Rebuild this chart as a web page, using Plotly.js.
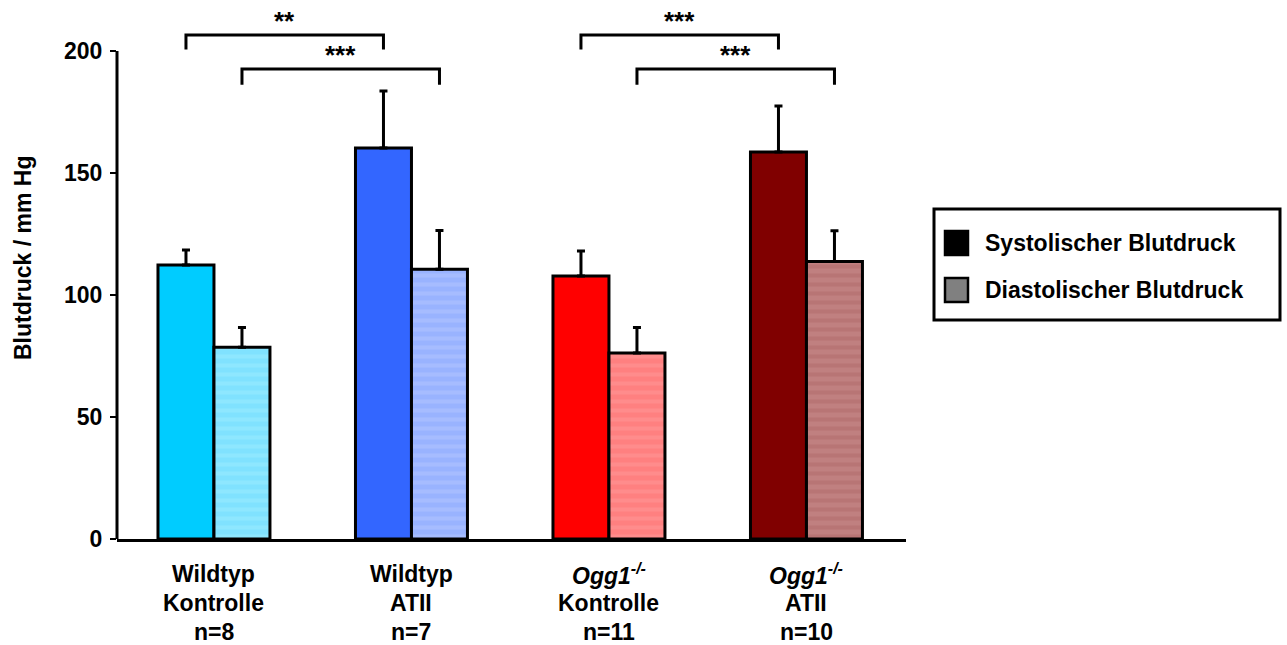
<!DOCTYPE html>
<html>
<head>
<meta charset="utf-8">
<script src="https://cdn.plot.ly/plotly-3.0.1.min.js"></script>
<style>
  html, body { margin: 0; padding: 0; background: #fff; }
  #chart { width: 1287px; height: 645px; }
</style>
</head>
<body>
<div id="chart"></div>
<script>
// Group labels (three lines under each group)
const genotype  = ["Wildtyp", "Wildtyp", "<i>Ogg1<sup>-/-</sup></i>", "<i>Ogg1<sup>-/-</sup></i>"];
const treatment = ["Kontrolle", "ATII", "Kontrolle", "ATII"];
const groupN    = ["n=8", "n=7", "n=11", "n=10"];

// Blood pressure means and SEM (mm Hg)
const systolic      = [112.3, 160.2, 107.8, 158.6];
const systolicErr   = [6.1, 23.4, 10.2, 18.9];
const diastolic     = [78.6, 110.6, 76.2, 113.7];
const diastolicErr  = [8.1, 15.8, 10.5, 12.6];

// Fill colours per group
const systolicColors  = ["#00ccff", "#3366ff", "#ff0000", "#800000"];
const diastolicColors = ["#80e2ff", "#99b3ff", "#ff8080", "#c08080"];
const diastolicStripe = ["#8ee7ff", "#a6bcff", "#ff8c8c", "#b87575"];

// Significance brackets: [first group, second group, series, label]
const brackets = [
  [0, 1, "sys", "**"],
  [0, 1, "dia", "***"],
  [2, 3, "sys", "***"],
  [2, 3, "dia", "***"]
];
const bracketLevels = { sys: [206.6, 200.6, 212.2], dia: [192.6, 186.2, 198.2] };

const FONT = "Liberation Sans, Arial, sans-serif";
const groupIdx = [0, 1, 2, 3];
const barOffset = 0.1418;   // half of one bar's width, in category units
const upOnly = arr => arr.map(() => 0);

const traces = [
  {
    type: "bar", name: "Systolischer Blutdruck", x: groupIdx, y: systolic,
    offsetgroup: "sys",
    marker: { color: systolicColors, line: { color: "#000", width: 3 } },
    error_y: { type: "data", array: systolicErr, arrayminus: upOnly(systolicErr),
               symmetric: false, color: "#000", thickness: 3, width: 4 },
    showlegend: false, hoverinfo: "y"
  },
  // diastolic: solid fill underneath ...
  {
    type: "bar", name: "Diastolischer Blutdruck", x: groupIdx, y: diastolic,
    offsetgroup: "dia",
    marker: { color: diastolicColors, line: { width: 0 } },
    showlegend: false, hoverinfo: "skip"
  },
  // ... with faint horizontal stripes, outline and error bars on top
  {
    type: "bar", name: "Diastolischer Blutdruck", x: groupIdx, y: diastolic,
    offsetgroup: "dia",
    marker: { color: "rgba(0,0,0,0)", line: { color: "#000", width: 3 },
              pattern: { shape: "-", fgcolor: diastolicStripe, bgcolor: "rgba(0,0,0,0)",
                         size: 9, solidity: 0.45, fillmode: "replace" } },
    error_y: { type: "data", array: diastolicErr, arrayminus: upOnly(diastolicErr),
               symmetric: false, color: "#000", thickness: 3, width: 4 },
    showlegend: false, hoverinfo: "y"
  }
];

// Plot area in pixels, used to place the legend box and axis title
const plotLeft = 117, plotRight = 906, plotTop = 10, plotBottom = 539;
const pxX = px => (px - plotLeft) / (plotRight - plotLeft);
const pxY = py => (plotBottom - py) / (plotBottom - plotTop);

const shapes = [];
const annotations = [];

// y axis line, only up to 200
shapes.push({ type: "line", xref: "paper", yref: "y", x0: 0, x1: 0, y0: 0, y1: 200,
              line: { color: "#000", width: 3 } });

// y axis title
annotations.push({ xref: "paper", yref: "paper", x: pxX(23), y: pxY(258), textangle: -90,
                   text: "Blutdruck / mm Hg", showarrow: false,
                   xanchor: "center", yanchor: "middle",
                   font: { family: FONT, size: 23, color: "#000", weight: 700 } });

// brackets
brackets.forEach(([a, b, s, label]) => {
  const off = s === "sys" ? -barOffset : barOffset;
  const [top, foot, textY] = bracketLevels[s];
  const xa = a + off, xb = b + off;
  shapes.push({ type: "path", xref: "x", yref: "y",
                path: `M ${xa},${foot} L ${xa},${top} L ${xb},${top} L ${xb},${foot}`,
                line: { color: "#000", width: 3 } });
  annotations.push({ xref: "x", yref: "y", x: (xa + xb) / 2, y: textY, text: label,
                     showarrow: false, yanchor: "middle",
                     font: { family: FONT, size: 26, color: "#000", weight: 700 } });
});

// group labels under the axis; the last line gets a compact box so it stays on the page
groupIdx.forEach(i => {
  [genotype[i], treatment[i], groupN[i]].forEach((t, k) => {
    const ann = { xref: "x", yref: "paper", x: i, y: 0, yanchor: "middle",
                  yshift: -35 - 29 * k, text: t, showarrow: false,
                  font: { family: FONT, size: 23, color: "#000", weight: 700 } };
    if (k === 2) ann.height = 26;
    annotations.push(ann);
  });
});

// legend box
shapes.push({ type: "rect", xref: "paper", yref: "paper",
              x0: pxX(934), x1: pxX(1280), y0: pxY(320), y1: pxY(209),
              line: { color: "#000", width: 3 }, fillcolor: "#fff" });
const legendItems = [
  { label: "Systolischer Blutdruck", fill: "#000", cy: 243 },
  { label: "Diastolischer Blutdruck", fill: "#808080", cy: 290 }
];
legendItems.forEach(it => {
  shapes.push({ type: "rect", xref: "paper", yref: "paper",
                x0: pxX(945), x1: pxX(968), y0: pxY(it.cy + 12), y1: pxY(it.cy - 12),
                line: { color: "#000", width: 2.5 }, fillcolor: it.fill });
  annotations.push({ xref: "paper", yref: "paper", x: pxX(983), y: pxY(it.cy),
                     xanchor: "left", yanchor: "middle", text: it.label, showarrow: false,
                     font: { family: FONT, size: 23, color: "#000", weight: 700 } });
});

const layout = {
  width: 1287, height: 645,
  margin: { l: plotLeft, r: 1287 - plotRight, t: plotTop, b: 645 - plotBottom },
  paper_bgcolor: "#fff", plot_bgcolor: "#fff",
  barmode: "group", bargap: 0.433, bargroupgap: 0,
  showlegend: false,
  font: { family: FONT, color: "#000" },
  xaxis: {
    range: [-0.491, 3.504], showticklabels: false, ticks: "",
    showline: true, linecolor: "#000", linewidth: 3, showgrid: false, zeroline: false,
    fixedrange: true
  },
  yaxis: {
    range: [0, 216.8], tickvals: [0, 50, 100, 150, 200],
    ticks: "outside", ticklen: 6, tickwidth: 2, tickcolor: "#000", ticklabelstandoff: 3,
    showline: false, showgrid: false, zeroline: false,
    tickfont: { family: FONT, size: 23, color: "#000", weight: 700 },
    automargin: false, fixedrange: true
  },
  shapes: shapes,
  annotations: annotations
};

Plotly.newPlot("chart", traces, layout, { displayModeBar: false, staticPlot: true });
</script>
</body>
</html>
